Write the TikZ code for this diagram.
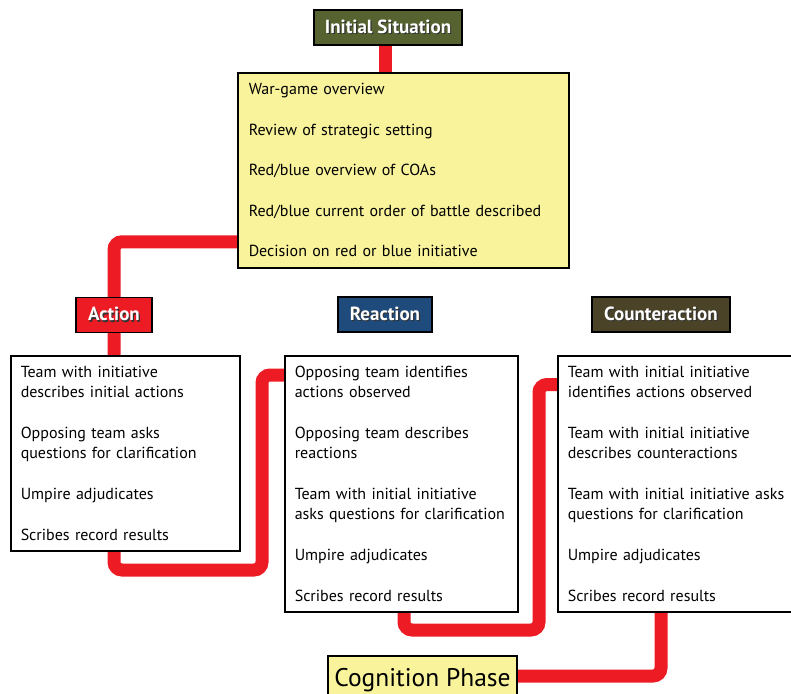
\documentclass[tikz,border=0pt]{standalone}
\usepackage{fontspec}
\setmainfont{PT Sans}
\usetikzlibrary{backgrounds}
\definecolor{wgred}{HTML}{ED1C24}
\definecolor{wgyellow}{HTML}{F9F39C}
\definecolor{wgolive}{HTML}{566330}
\definecolor{wgblue}{HTML}{1F4A7C}
\definecolor{wgbrown}{HTML}{4A4328}
\newcommand\hdtxt[1]{\rlap{\raisebox{-1.3pt}{\hspace{1.2pt}\color{black!80}#1}}#1}
\tikzset{
  head/.style={draw=black, line width=1.2pt, text=white, minimum height=35pt,
    inner xsep=0pt, font=\fontsize{19}{22}\selectfont\bfseries},
  stepbox/.style={draw=black, line width=1.5pt, fill=white, anchor=north west,
    align=left, inner xsep=10pt, font=\fontsize{16}{20}\selectfont},
  redline/.style={draw=wgred, line width=13pt, rounded corners=8pt}
}
\begin{document}
\begin{tikzpicture}[x=1pt,y=-1pt]
\useasboundingbox (0,0) rectangle (791,693);
\clip (0,0) rectangle (791,693);
\node[head, fill=wgolive, minimum width=148pt] (init) at (388,27.5) {\hdtxt{Initial Situation}};
\node[stepbox, fill=wgyellow, text width=309pt, inner xsep=11pt, minimum height=195pt] (sit) at (237,72)
  {War-game overview\\[20.5pt] Review of strategic setting\\[20.5pt] Red/blue overview of COAs\\[20.5pt]
   Red/blue current order of battle described\\[20.5pt] Decision on red or blue initiative};
\node[head, fill=wgred, minimum width=76pt] (act) at (114,315) {\hdtxt{Action}};
\node[head, fill=wgblue, minimum width=94pt] (rea) at (385,314.5) {\hdtxt{Reaction}};
\node[head, fill=wgbrown, minimum width=138pt] (ctr) at (661,314.5) {\hdtxt{Counteraction}};
\node[stepbox, text width=209pt, minimum height=195pt] (actbox) at (10,355)
  {Team with initiative\\ describes initial actions\\[21pt] Opposing team asks\\ questions for clarification\\[21pt]
   Umpire adjudicates\\[21pt] Scribes record results};
\node[stepbox, text width=213pt, minimum height=256pt] (reabox) at (284,355)
  {Opposing team identifies\\ actions observed\\[21pt] Opposing team describes\\ reactions\\[21pt]
   Team with initial initiative\\ asks questions for clarification\\[21pt] Umpire adjudicates\\[21pt] Scribes record results};
\node[stepbox, text width=220pt, minimum height=256pt] (ctrbox) at (557,355)
  {Team with initial initiative\\ identifies actions observed\\[21pt] Team with initial initiative\\ describes counteractions\\[21pt]
   Team with initial initiative asks\\ questions for clarification\\[21pt] Umpire adjudicates\\[21pt] Scribes record results};
\node[draw=black, line width=1.2pt, fill=wgyellow, minimum width=189pt, minimum height=48pt,
  font=\fontsize{25.5}{30}\selectfont] (cog) at (422.5,680) {Cognition Phase};
\begin{pgfonlayer}{background}
\draw[redline] ([xshift=-2.5pt]init.south) -- ([xshift=-2.5pt]init.south |- sit.north);
\draw[redline] ([yshift=-71.5pt]sit.west) -| (act.center) -- (act |- actbox.north);
\draw[redline] (act |- actbox.south) |- (262,570) |- ([yshift=-20pt]reabox.north west);
\draw[redline] ([xshift=120pt]reabox.south west) |- (539,630) |- ([yshift=-29.5pt]ctrbox.north west);
\draw[redline] ([xshift=104pt]ctrbox.south west) |- ([yshift=4pt]cog.east);
\end{pgfonlayer}
\end{tikzpicture}
\end{document}
